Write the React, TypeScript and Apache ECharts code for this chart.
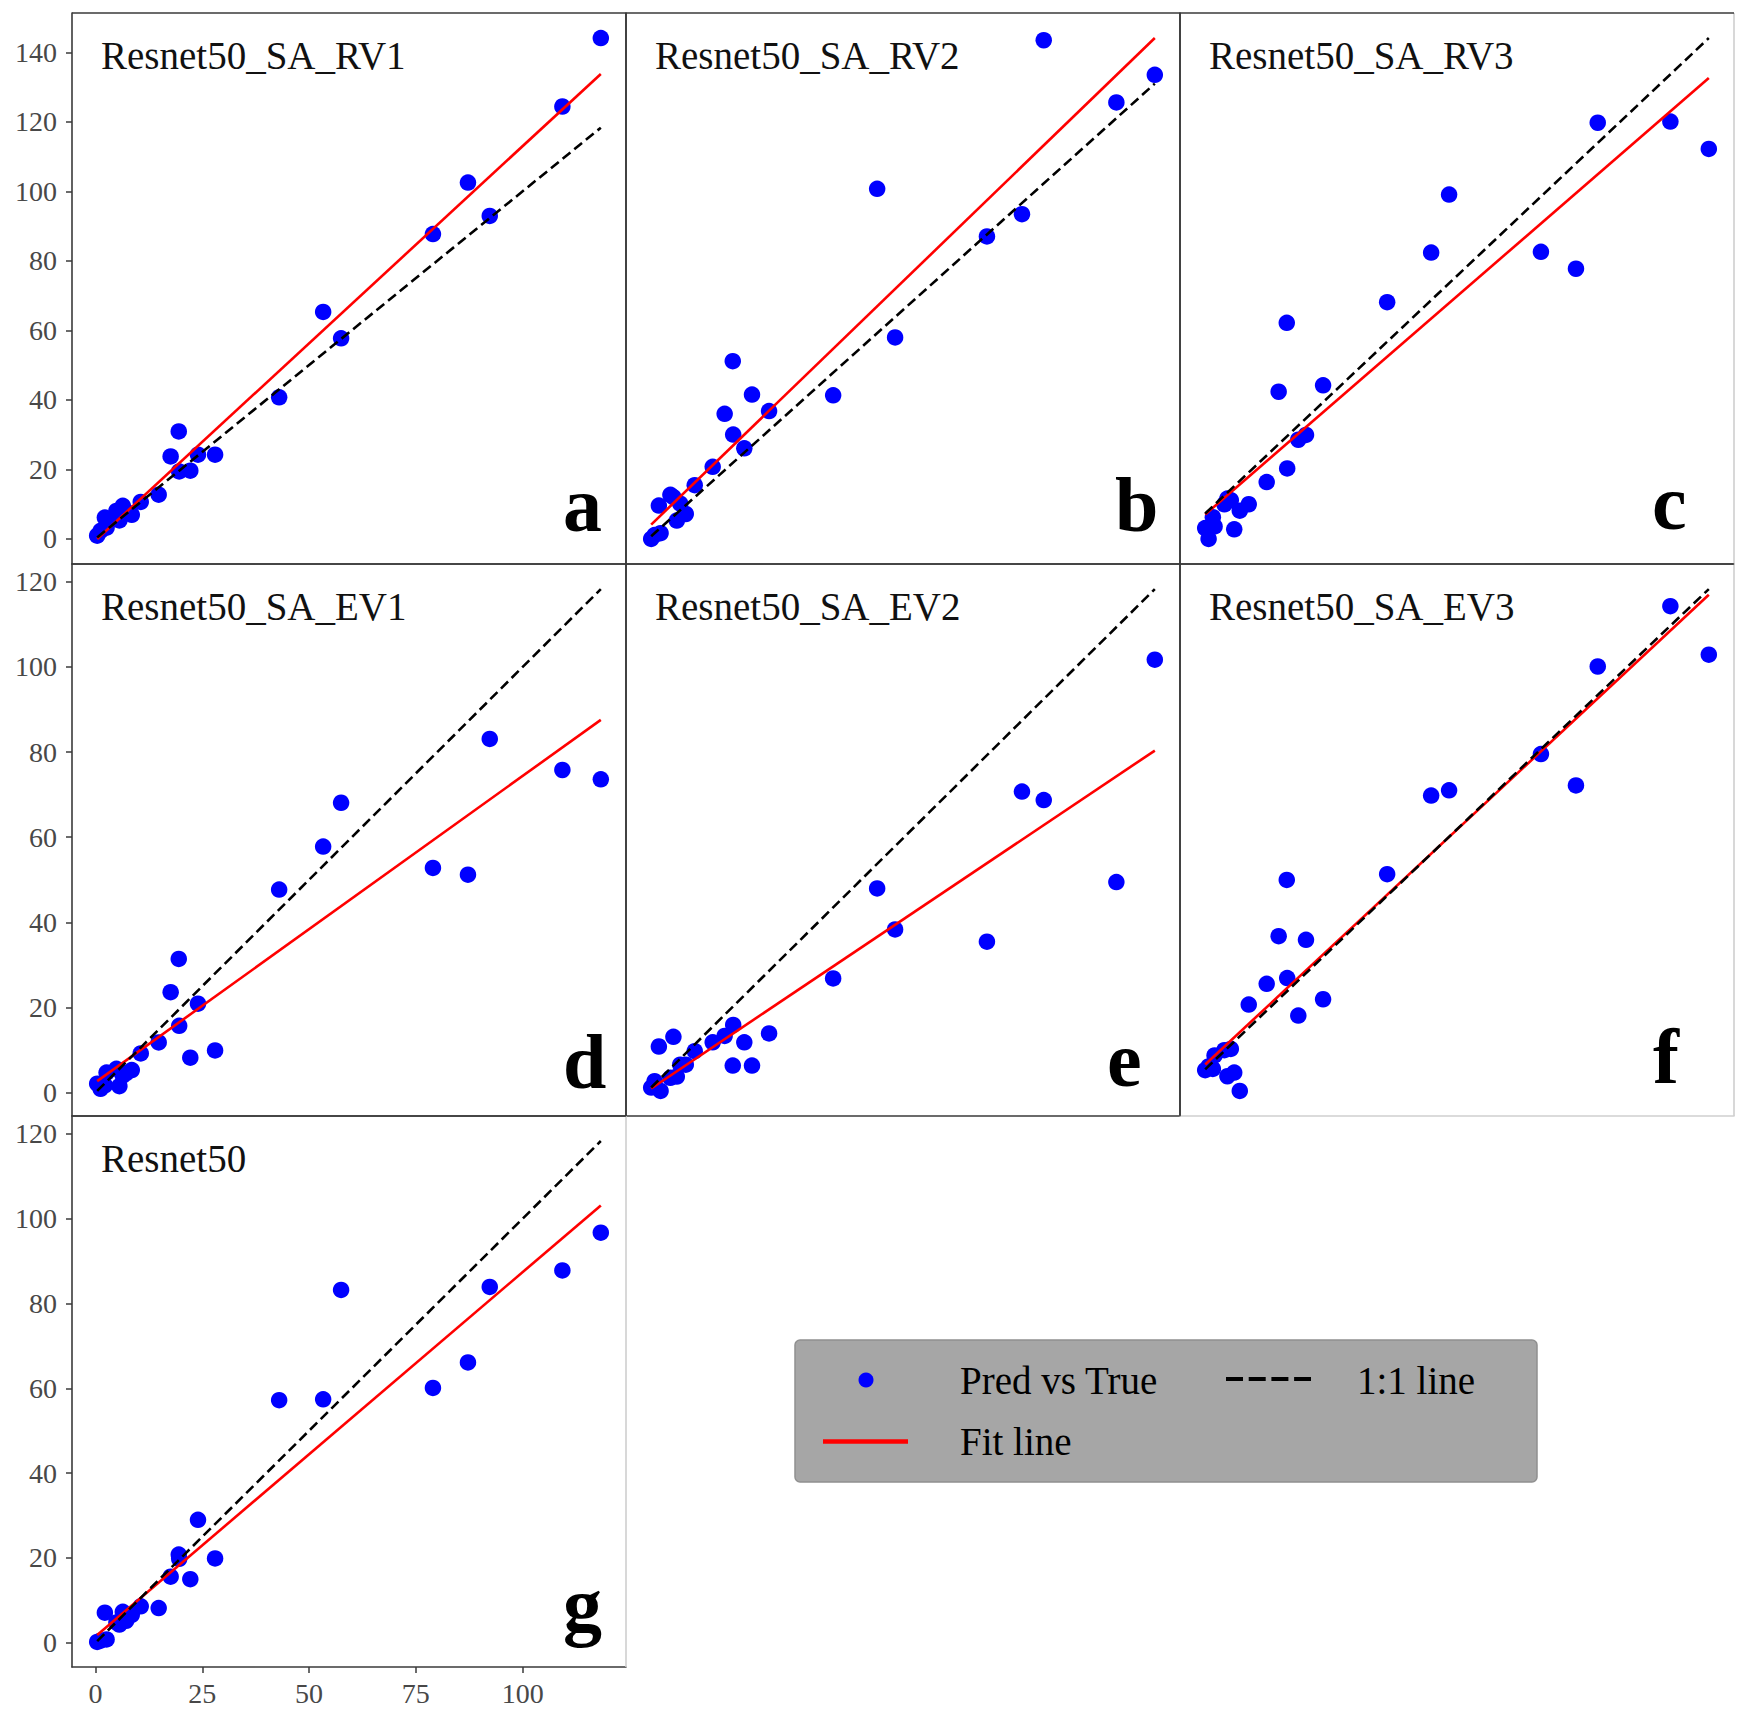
import React, { useEffect, useRef } from "react";
import * as echarts from "echarts";

// ---------------- data ----------------
const TRUE_VALUES = [0.4, 1.2, 2.2, 2.6, 4.9, 5.6, 6.4, 7.2, 8.5, 10.6, 14.8, 17.6, 19.5, 19.6, 22.2, 24.0, 28.0, 43.0, 53.3, 57.5, 79.0, 87.2, 92.3, 109.3, 118.3];

const PRED_SA_RV1 = [0.9, 2.3, 6.1, 3.2, 8.0, 5.3, 9.5, 7.8, 6.9, 10.6, 12.7, 23.7, 30.9, 19.4, 19.6, 24.2, 24.2, 40.7, 65.3, 57.7, 87.7, 102.5, 92.9, 124.4, 144.1];
const PRED_SA_RV2 = [-0.3, 0.7, 8.4, 1.2, 11.2, 10.6, 4.5, 8.9, 6.2, 13.7, 18.5, 32.3, 46.0, 26.9, 23.3, 37.3, 33.0, 37.1, 90.9, 52.2, 78.5, 84.3, 129.6, 113.4, 120.6];
const PRED_SA_RV3 = [-3.2, -5.9, -0.5, -2.8, 2.7, 4.1, 3.7, -3.5, 1.1, 2.7, 8.2, 30.6, 47.7, 11.6, 18.7, 19.9, 32.2, 52.8, 65.1, 79.5, 65.3, 61.1, 97.3, 97.6, 90.8];
const PRED_SA_EV1 = [2.1, 0.9, 1.7, 4.7, 5.6, 1.5, 4.0, 4.6, 5.3, 9.2, 11.8, 23.6, 31.4, 15.7, 8.2, 20.9, 9.9, 47.7, 57.8, 68.1, 52.8, 51.2, 83.1, 75.8, 73.6];
const PRED_SA_EV2 = [0.4, 1.9, 10.1, -0.4, 2.7, 12.4, 3.0, 5.8, 5.8, 9.0, 11.1, 12.6, 5.6, 15.2, 11.1, 5.6, 13.2, 26.2, 47.5, 37.8, 34.9, 70.4, 68.4, 49.0, 101.6];
const PRED_SA_EV3 = [0.2, 1.1, 0.5, 3.8, 5.1, -1.3, 5.4, -0.4, -4.9, 16.3, 21.4, 33.1, 46.9, 22.8, 13.6, 32.2, 17.6, 48.3, 67.6, 68.9, 77.8, 70.1, 99.3, 114.1, 102.2];
const PRED_BASE = [0.2, 0.5, 7.1, 0.8, 4.8, 4.3, 7.3, 5.2, 6.6, 8.6, 8.2, 15.6, 20.8, 19.8, 15.0, 29.0, 19.9, 57.2, 57.4, 83.2, 60.1, 66.1, 83.9, 87.8, 96.7];

const PANEL_PREDS = [PRED_SA_RV1, PRED_SA_RV2, PRED_SA_RV3, PRED_SA_EV1, PRED_SA_EV2, PRED_SA_EV3, PRED_BASE];
const PANEL_NAMES = ["Resnet50_SA_RV1", "Resnet50_SA_RV2", "Resnet50_SA_RV3", "Resnet50_SA_EV1", "Resnet50_SA_EV2", "Resnet50_SA_EV3", "Resnet50"];
const PANEL_LETTERS = ["a", "b", "c", "d", "e", "f", "g"];

const FIT_SLOPE = [1.135, 1.075, 0.918, 0.72, 0.678, 0.978, 0.859];
const FIT_INTERCEPT = [-0.5, 3.0, -0.2, 2.4, -0.1, 1.2, 1.5];

const Y_TICKS_TOP = [0, 20, 40, 60, 80, 100, 120, 140];
const Y_TICKS_LOWER = [0, 20, 40, 60, 80, 100, 120];
const X_TICKS = [0, 25, 50, 75, 100];

const LEGEND_LABELS = ["Pred vs True", "1:1 line", "Fit line"];

// ---------------- layout ----------------
const PANEL_COL = [0, 1, 2, 0, 1, 2, 0];
const PANEL_ROW = [0, 0, 0, 1, 1, 1, 2];
const COL_LEFT = [72, 626, 1180];
const ROW_TOP = [13, 564, 1116];
const ROW_H = [551, 552, 551];
const PANEL_W = 554;
const LETTER_DX = [491, 489, 472, 491, 481, 473, 491];
const LETTER_BASE_DY = [-33, -33, -35, -28, -30, -33, -36];
const LIGHT_RIGHT = [false, false, true, false, false, true, true];
const LIGHT_BOTTOM = [false, false, false, false, false, true, false];

const SERIF = '"Liberation Serif", "DejaVu Serif", serif';
const DARK = "#3a3a3a";
const LIGHT = "#cfcfcf";
const TICK_TEXT = "#484848";

function autoRange(vals: number[]): [number, number] {
  const lo = Math.min(...vals);
  const hi = Math.max(...vals);
  const d = hi - lo;
  return [lo - 0.05 * d, hi + 0.05 * d];
}

function centerFromBaseline(base: number, fs: number) {
  return base - 0.3375 * fs;
}

function buildOption() {
  const grids: any[] = [];
  const xAxes: any[] = [];
  const yAxes: any[] = [];
  const series: any[] = [];
  const graphics: any[] = [];

  const xMinT = Math.min(...TRUE_VALUES);
  const xMaxT = Math.max(...TRUE_VALUES);
  const [xMin, xMax] = autoRange(TRUE_VALUES);

  PANEL_PREDS.forEach((pred, i) => {
    const col = PANEL_COL[i];
    const row = PANEL_ROW[i];
    const left = COL_LEFT[col];
    const top = ROW_TOP[row];
    const h = ROW_H[row];
    const firstCol = col === 0;
    const isBottom = i === 6;

    const fitA = FIT_INTERCEPT[i] + FIT_SLOPE[i] * xMinT;
    const fitB = FIT_INTERCEPT[i] + FIT_SLOPE[i] * xMaxT;
    const [yMin, yMax] = autoRange([...pred, fitA, fitB, xMinT, xMaxT]);

    grids.push({ left, top, width: PANEL_W, height: h, show: false, containLabel: false });

    xAxes.push({
      type: "value",
      gridIndex: i,
      min: xMin,
      max: xMax,
      splitLine: { show: false },
      axisLine: { show: true, onZero: false, lineStyle: { color: LIGHT_BOTTOM[i] ? LIGHT : DARK, width: 1.6 } },
      axisTick: { show: isBottom, length: 6, customValues: X_TICKS, lineStyle: { color: DARK, width: 1.5 } },
      axisLabel: {
        show: isBottom,
        customValues: X_TICKS,
        fontFamily: SERIF,
        fontSize: 28,
        color: TICK_TEXT,
        margin: 12,
      },
    });

    yAxes.push({
      type: "value",
      gridIndex: i,
      min: yMin,
      max: yMax,
      splitLine: { show: false },
      axisLine: { show: true, onZero: false, lineStyle: { color: DARK, width: 1.6 } },
      axisTick: { show: firstCol, length: 6, customValues: row === 0 ? Y_TICKS_TOP : Y_TICKS_LOWER, lineStyle: { color: DARK, width: 1.5 } },
      axisLabel: {
        show: firstCol,
        customValues: row === 0 ? Y_TICKS_TOP : Y_TICKS_LOWER,
        fontFamily: SERIF,
        fontSize: 28,
        color: TICK_TEXT,
        margin: 15,
      },
    });

    series.push({
      type: "scatter",
      name: LEGEND_LABELS[0],
      xAxisIndex: i,
      yAxisIndex: i,
      data: TRUE_VALUES.map((x, k) => [x, pred[k]]),
      symbol: "circle",
      symbolSize: 16.5,
      itemStyle: { color: "#0000ff", opacity: 1 },
      z: 2,
    });
    series.push({
      type: "line",
      name: LEGEND_LABELS[2],
      xAxisIndex: i,
      yAxisIndex: i,
      data: [[xMinT, fitA], [xMaxT, fitB]],
      symbol: "none",
      lineStyle: { color: "#ff0000", width: 2.6 },
      z: 3,
    });
    series.push({
      type: "line",
      name: LEGEND_LABELS[1],
      xAxisIndex: i,
      yAxisIndex: i,
      data: [[xMinT, xMinT], [xMaxT, xMaxT]],
      symbol: "none",
      lineStyle: { color: "#000000", width: 2.6, type: [10, 5] },
      z: 4,
    });

    // top and right frame lines
    graphics.push({
      type: "line",
      shape: { x1: left, y1: top, x2: left + PANEL_W, y2: top },
      style: { stroke: DARK, lineWidth: 1.6 },
      z: 10,
    });
    graphics.push({
      type: "line",
      shape: { x1: left + PANEL_W, y1: top, x2: left + PANEL_W, y2: top + h },
      style: { stroke: LIGHT_RIGHT[i] ? LIGHT : DARK, lineWidth: 1.6 },
      z: LIGHT_RIGHT[i] ? 9 : 10,
    });

    // title
    graphics.push({
      type: "text",
      x: left + 29,
      y: centerFromBaseline(top + 56, 39),
      style: {
        text: PANEL_NAMES[i],
        fill: "#111111",
        fontFamily: SERIF,
        fontSize: 39,
        align: "left",
        verticalAlign: "middle",
      },
      z: 10,
    });
    // panel letter
    graphics.push({
      type: "text",
      x: left + LETTER_DX[i],
      y: centerFromBaseline(top + h + LETTER_BASE_DY[i], 78),
      style: {
        text: PANEL_LETTERS[i],
        fill: "#000000",
        fontFamily: SERIF,
        fontSize: 78,
        fontWeight: "bold",
        align: "left",
        verticalAlign: "middle",
      },
      z: 10,
    });
  });

  // legend box
  const lx = 795, ly = 1340, lw = 742, lh = 142;
  graphics.push({
    type: "rect",
    shape: { x: lx, y: ly, width: lw, height: lh, r: 5 },
    style: { fill: "#a6a6a6", stroke: "#909090", lineWidth: 1.5 },
    z: 20,
  });
  graphics.push({
    type: "circle",
    shape: { cx: 866, cy: 1380, r: 7.5 },
    style: { fill: "#0000ff" },
    z: 21,
  });
  graphics.push({
    type: "line",
    shape: { x1: 1226, y1: 1379, x2: 1311, y2: 1379 },
    style: { stroke: "#000000", lineWidth: 4, lineDash: [17, 5.7] },
    z: 21,
  });
  graphics.push({
    type: "line",
    shape: { x1: 823, y1: 1441.5, x2: 908, y2: 1441.5 },
    style: { stroke: "#ff0000", lineWidth: 4.5 },
    z: 21,
  });
  const legendText = (text: string, x: number, base: number) => ({
    type: "text",
    x,
    y: centerFromBaseline(base, 39),
    style: { text, fill: "#000000", fontFamily: SERIF, fontSize: 39, align: "left", verticalAlign: "middle" },
    z: 21,
  });
  graphics.push(legendText(LEGEND_LABELS[0], 960, 1394));
  graphics.push(legendText(LEGEND_LABELS[1], 1357, 1394));
  graphics.push(legendText(LEGEND_LABELS[2], 960, 1455));

  return {
    animation: false,
    backgroundColor: "#ffffff",
    grid: grids,
    xAxis: xAxes,
    yAxis: yAxes,
    series,
    graphic: graphics,
  };
}

export default function App() {
  const ref = useRef<HTMLDivElement | null>(null);
  useEffect(() => {
    document.body.style.margin = "0";
    if (!ref.current) return;
    const chart = echarts.init(ref.current, undefined, { renderer: "svg" });
    chart.setOption(buildOption() as any);
    return () => chart.dispose();
  }, []);
  return <div ref={ref} style={{ width: 1747, height: 1717, background: "#fff" }} />;
}
